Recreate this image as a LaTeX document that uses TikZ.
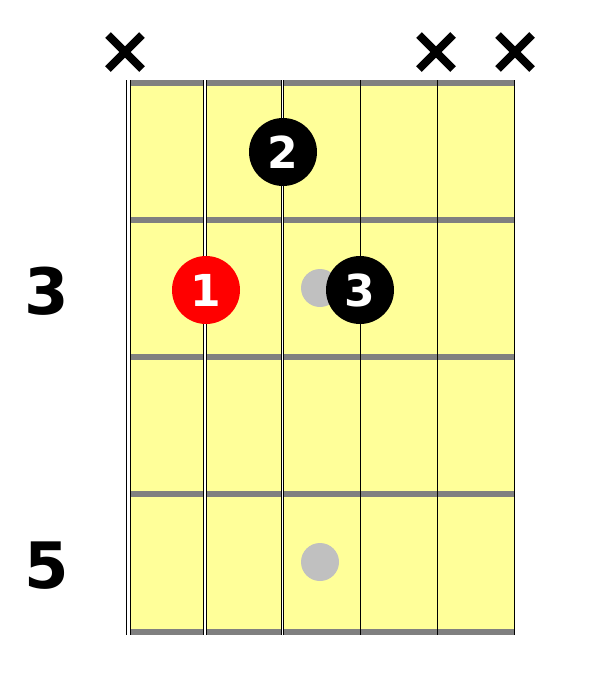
\documentclass[tikz,border=0pt]{standalone}
\usepackage{fontspec}
\setmainfont{DejaVu Sans}
\usepackage{tikz}
\usetikzlibrary{
  shapes.misc
}
\definecolor{boardyellow}{RGB}{255,255,153}
\definecolor{fretgray}{RGB}{128,128,128}
\definecolor{inlaygray}{RGB}{192,192,192}
\definecolor{rootred}{RGB}{255,0,0}

\begin{document}
\begin{tikzpicture}[
  x=1pt, y=-1pt,
  fret/.style={draw=fretgray, line width=6pt},
  wound/.style={draw=black, line width=1pt, double=white},
  plain/.style={draw=black, line width=1pt},
  finger/.style={circle, fill=black, minimum size=68pt, inner sep=0pt,
                 text=white, font=\fontsize{44}{44}\selectfont\bfseries},
  rootfinger/.style={finger, fill=rootred},
  inlay/.style={circle, fill=inlaygray, minimum size=38pt, inner sep=0pt},
  mute/.style={cross out, draw=black, line width=8pt, minimum size=26pt, inner sep=0pt},
  fretnum/.style={font=\fontsize{64}{64}\selectfont\bfseries}
]
\useasboundingbox (0,0) rectangle (602,678);

% Fretboard
\fill[boardyellow] (128,80) rectangle (514,635);

% Frets
\draw[fret] (128,83) -- (514,83);
\draw[fret] (128,220) -- (514,220);
\draw[fret] (128,357) -- (514,357);
\draw[fret] (128,494) -- (514,494);
\draw[fret] (128,632) -- (514,632);

% Strings
\draw[wound, double distance=3pt] (128.5,80) -- (128.5,635);
\draw[wound, double distance=2pt] (205,80) -- (205,635);
\draw[wound, double distance=1pt] (282.5,80) -- (282.5,635);
\draw[plain] (360,80) -- (360,635);
\draw[plain] (437,80) -- (437,635);
\draw[plain] (514,80) -- (514,635);

% Inlays
\node[inlay] (inlay3) at (320,288) {};
\node[inlay] (inlay5) at (320,562) {};

% Fingers
\node[finger] (f2) at (283,152) {2};
\node[rootfinger] (f1) at (206,290) {1};
\node[finger] (f3) at (360,290) {3};

% Muted strings
\node[mute] (mute6) at (125,52) {};
\node[mute] (mute2) at (436,52) {};
\node[mute] (mute1) at (515,52) {};

% Fret numbers
\node[fretnum] (num3) at (47,291) {3};
\node[fretnum] (num5) at (47,566) {5};

\end{tikzpicture}
\end{document}
